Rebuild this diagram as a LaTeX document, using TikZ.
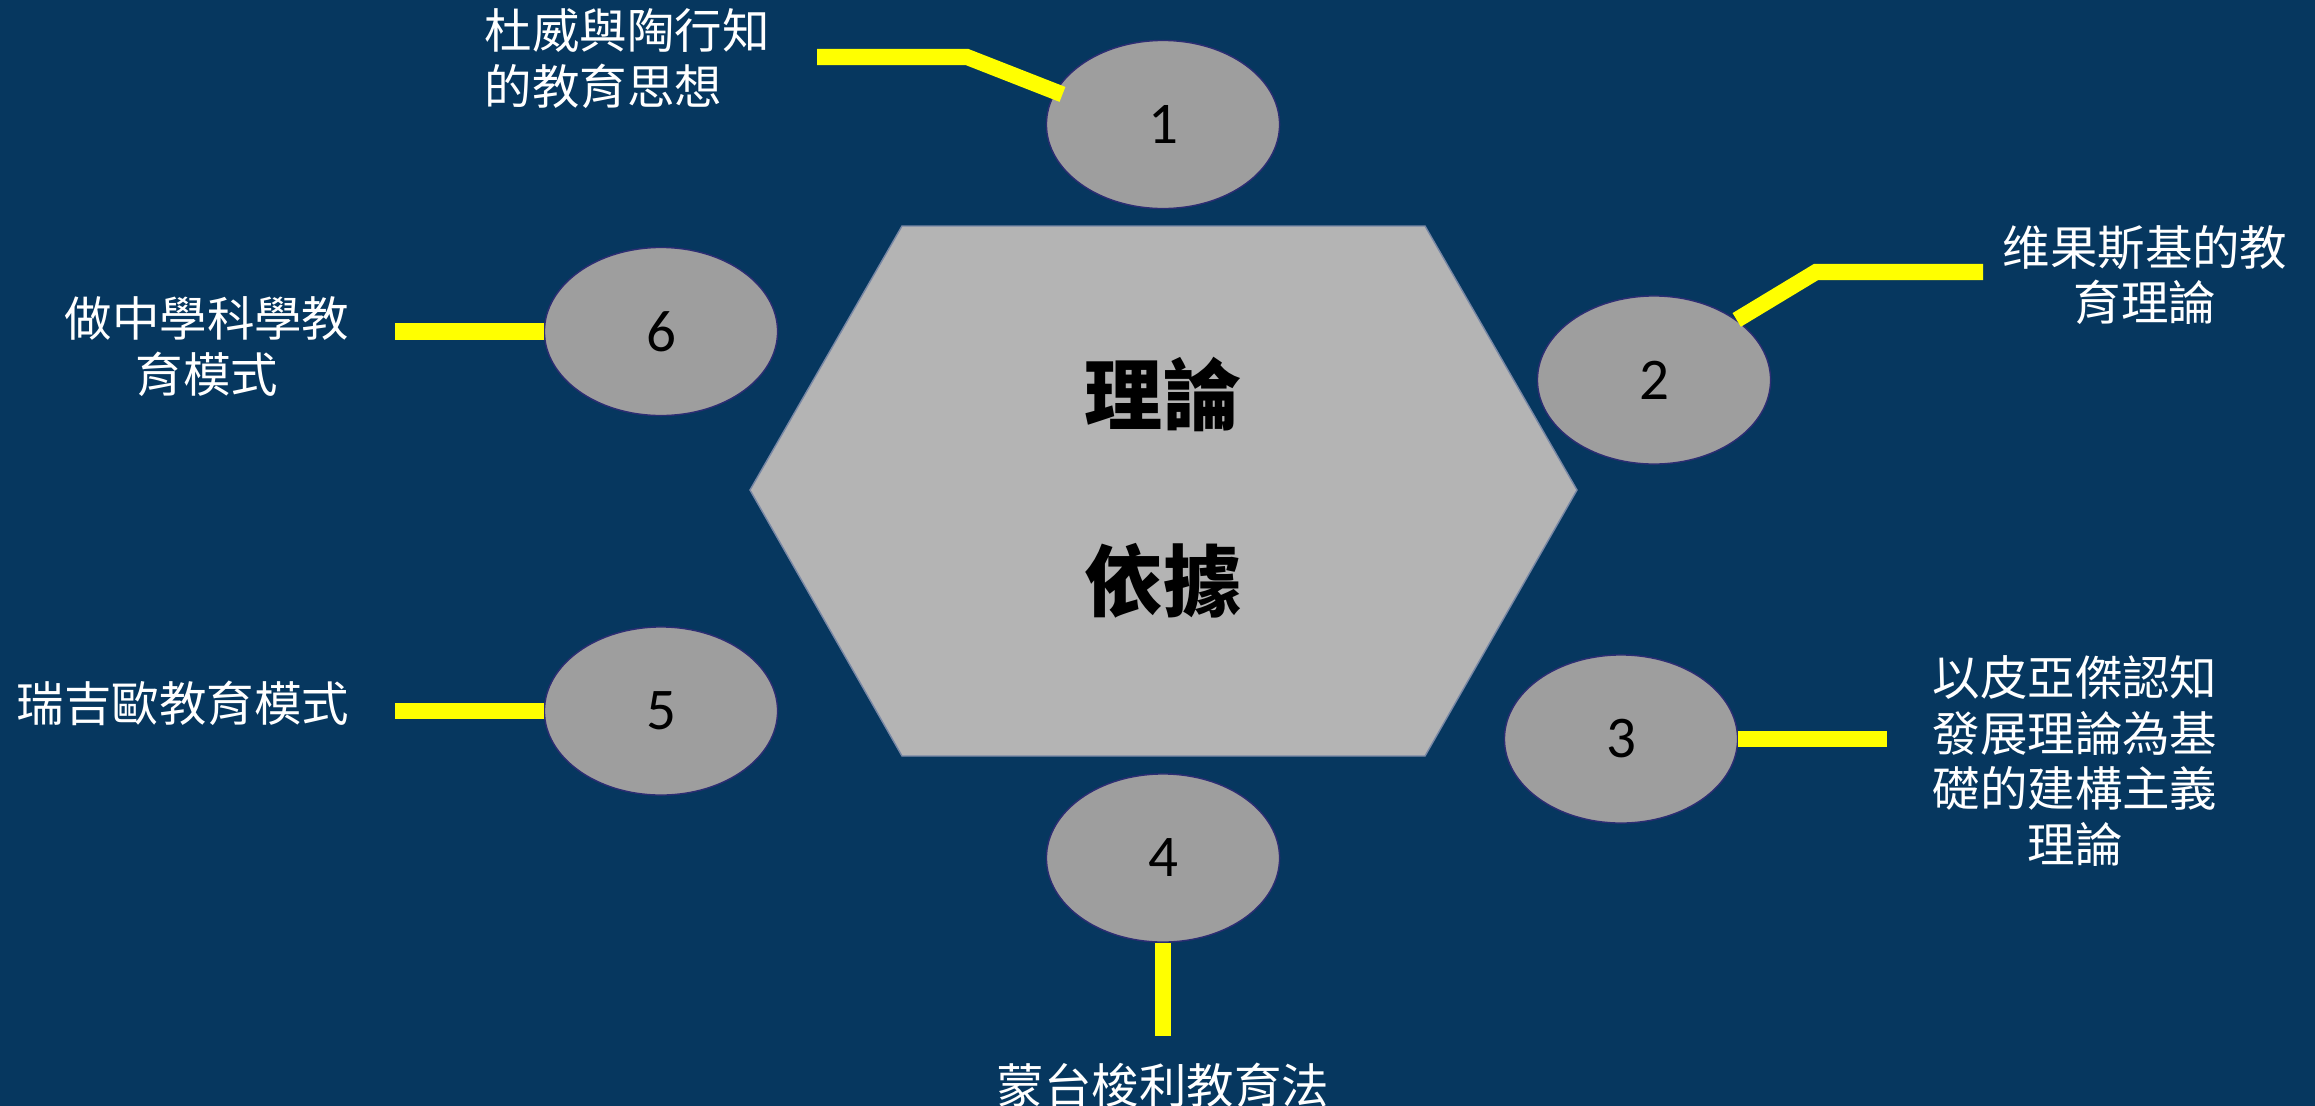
\documentclass[tikz,border=0pt]{standalone}
\usepackage{fontspec}
\setmainfont{Noto Sans CJK TC}
\newfontfamily\numfont{Carlito}
\usetikzlibrary{shapes.geometric}
\definecolor{bg}{RGB}{6,55,95}
\definecolor{hexfill}{RGB}{180,180,180}
\definecolor{ellfill}{RGB}{158,158,158}
\definecolor{ellline}{RGB}{45,45,115}
\definecolor{hexline}{RGB}{120,135,165}
\definecolor{leadyellow}{RGB}{255,255,0}
\begin{document}
\begin{tikzpicture}[x=0.01cm,y=-0.01cm,
  numell/.style={ellipse, fill=ellfill, draw=ellline, line width=0.4pt,
    minimum width=2.33cm, minimum height=1.68cm, inner sep=0pt,
    font=\numfont\fontsize{16.8pt}{20pt}\selectfont, text=black},
  lbltext/.style={text=white, inner sep=0pt, font=\fontsize{13.5pt}{15.9pt}\selectfont},
  leader/.style={draw=leadyellow, line width=0.16cm}]
\useasboundingbox (0,0) rectangle (2315,1106);
\fill[bg] (0,0) rectangle (2315,1106);
% central hexagon
\filldraw[fill=hexfill, draw=hexline, line width=0.4pt]
  (750,490) -- (902,226) -- (1425,226) -- (1577,490) -- (1425,756) -- (902,756) -- cycle;
\node (core) [text=black, align=center, inner sep=0pt,
  font=\bfseries\fontsize{22.2pt}{52.9pt}\selectfont] at (1163,488) {理論\\依據};
% numbered ellipses
\node (e1) [numell] at (1163,124.5) {1};
\node (e2) [numell] at (1654,380) {2};
\node (e3) [numell] at (1621,739) {3};
\node (e4) [numell] at (1163,858) {4};
\node (e5) [numell] at (661,711) {5};
\node (e6) [numell] at (661,331.5) {6};
% labels
\node (t1) [lbltext, align=left, anchor=west] at (484,59) {杜威與陶行知\\的教育思想};
\node (t2) [lbltext, align=center] at (2145,275) {维果斯基的教\\育理論};
\node (t3) [lbltext, align=center] at (2075,761) {以皮亞傑認知\\發展理論為基\\礎的建構主義\\理論};
\node (t4) [lbltext, align=center] at (1163,1085) {蒙台梭利教育法};
\node (t5) [lbltext, align=center] at (183,703) {瑞吉歐教育模式};
\node (t6) [lbltext, align=center] at (207,346.5) {做中學科學教\\育模式};
% leader line points
\coordinate (k1) at (967,57);
\coordinate (k1e) at (817,57);
\coordinate (k2) at (1816,272);
\coordinate (k2e) at (1983,272);
\coordinate (k3) at (1887,739);
\coordinate (k4) at (1163,1036);
\coordinate (k5) at (395,711);
\coordinate (k6) at (395,331.5);
% leader lines
\draw[leader, shorten <=-0.08cm] (e1.163) -- (k1) -- (k1e);
\draw[leader] (e2.36) -- (k2) -- (k2e);
\draw[leader] (e3.east) -- (k3);
\draw[leader] (e4.south) -- (k4);
\draw[leader] (e5.west) -- (k5);
\draw[leader] (e6.west) -- (k6);
\end{tikzpicture}
\end{document}
